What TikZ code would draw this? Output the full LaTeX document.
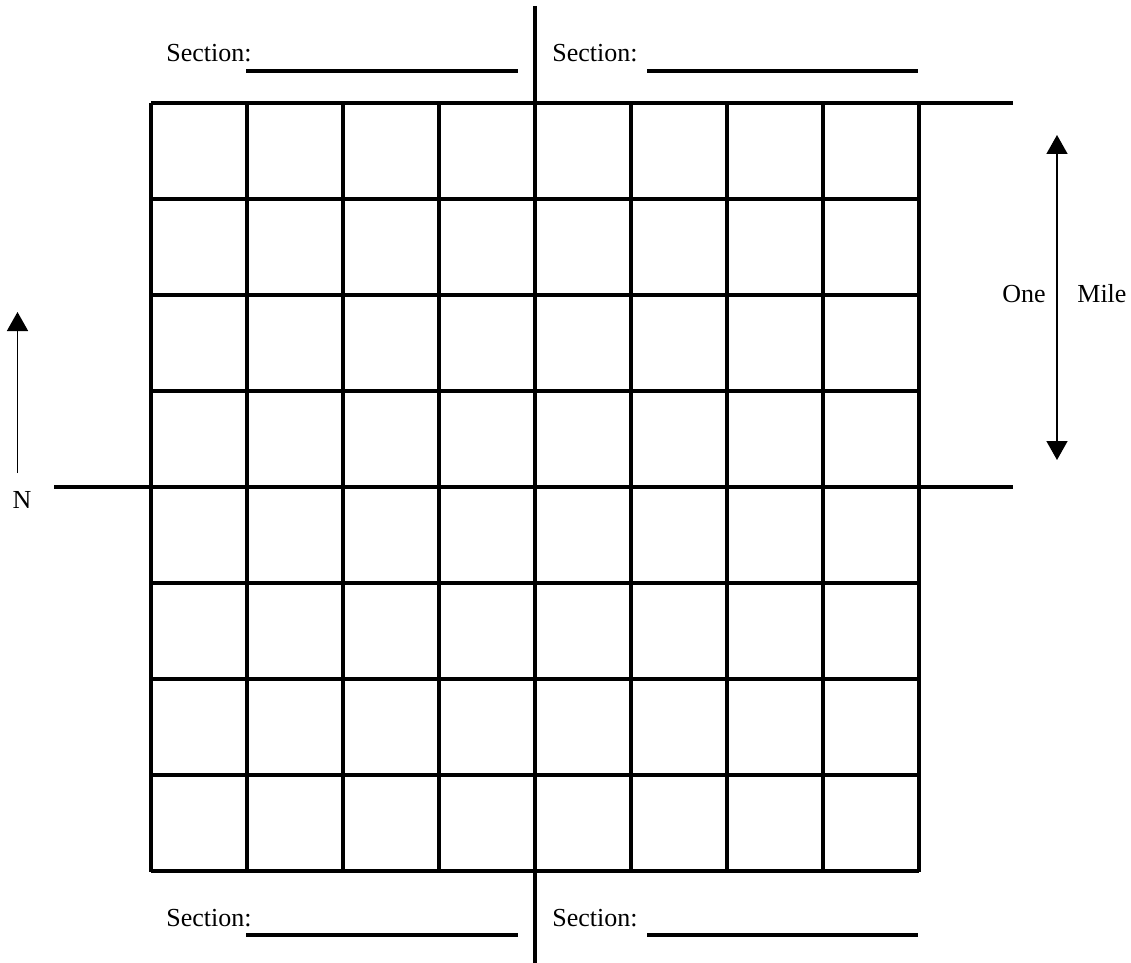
\documentclass[tikz,border=0pt]{standalone}
\usepackage{fontspec}
\setmainfont{Liberation Serif}
\usetikzlibrary{arrows.meta,positioning}
\tikzset{
  linea/.style={line width=1.7pt},
  flecha/.style={line width=0.8pt,-{Triangle[length=9.5pt,width=10.5pt]}},
  rotulo/.style={font=\fontsize{13}{15}\selectfont,inner sep=0pt,anchor=base west}
}
\begin{document}
\begin{tikzpicture}[x=0.5pt,y=-0.5pt]
    \useasboundingbox (0,0) rectangle (1131,963);
    % Cuadricula 8x8
    \foreach \i in {0,...,8}{
      \draw[linea] ({151+96*\i},103) -- ({151+96*\i},872);
    }
    \foreach \j in {1,2,3,5,6,7,8}{
      \draw[linea] (151,{103+96*\j}) -- (919,{103+96*\j});
    }
    % Caminos
    \coordinate (caminoN) at (535,6);
    \coordinate (caminoS) at (535,963);
    \coordinate (caminoO) at (54,487);
    \coordinate (caminoE) at (1013,487);
    \coordinate (limiteO) at (151,103);
    \coordinate (limiteE) at (1013,103);
    \draw[linea] (caminoN) -- (caminoS);
    \draw[linea] (caminoO) -- (caminoE);
    \draw[linea] (limiteO) -- (limiteE);
    % Secciones
    \node[rotulo] (secNO) at (166,62) {Section:};
    \node[rotulo] (secNE) at (552,62) {Section:};
    \node[rotulo] (secSO) at (166,926) {Section:};
    \node[rotulo] (secSE) at (552,926) {Section:};
    \draw[linea] (246,71) -- (518,71);
    \draw[linea] (647,71) -- (918,71);
    \draw[linea] (246,935) -- (518,935);
    \draw[linea] (647,935) -- (918,935);
    % Norte
    \coordinate (norteA) at (17.5,473);
    \coordinate (norteB) at (17.5,312);
    \draw[flecha] (norteA) -- (norteB);
    \node[font=\fontsize{13}{15}\selectfont,inner sep=0pt] (norte) at (22,500) {N};
    % Una milla
    \coordinate (millaA) at (1057,135);
    \coordinate (millaB) at (1057,460);
    \draw[flecha,{Triangle[length=9.5pt,width=10.5pt]}-{Triangle[length=9.5pt,width=10.5pt]}] (millaA) -- (millaB);
    \node[rotulo] (una) at (1002,302) {One};
    \node[rotulo] (milla) at (1077,302) {Mile};
  \end{tikzpicture}
\end{document}
